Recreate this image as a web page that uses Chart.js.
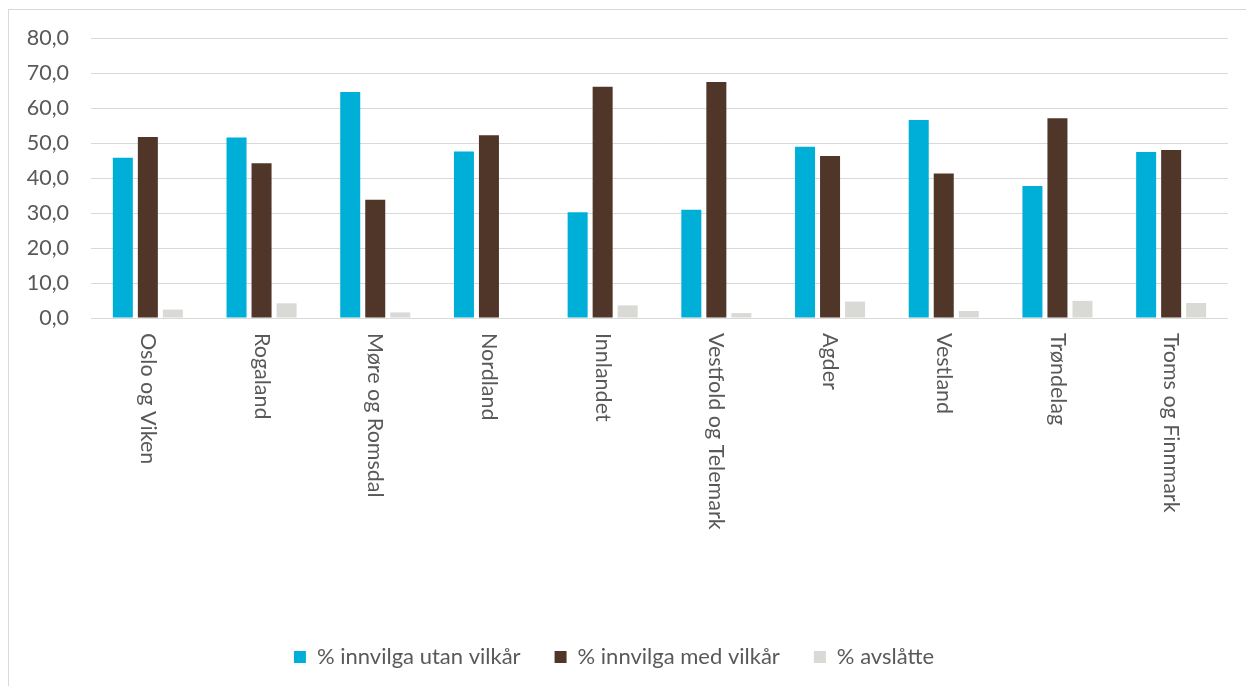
<!DOCTYPE html>
<html>
<head>
<meta charset="utf-8">
<script src="https://cdn.jsdelivr.net/npm/chart.js@4/dist/chart.umd.min.js"></script>
<style>
    html, body { margin: 0; padding: 0; background: #fff; overflow: hidden; }
    #wrap { position: relative; width: 1246px; height: 686px; }
    #frame { position: absolute; left: 8px; top: 9px; width: 1400px; height: 900px; border: 1px solid #d9d9d9; }
    #chart { position: absolute; left: 0; top: 0; }
</style>
</head>
<body>
<div id="wrap">
    <div id="frame"></div>
    <canvas id="chart" width="1246" height="686"></canvas>
</div>
<script>
// Data
const regions = ['Oslo og Viken', 'Rogaland', 'Møre og Romsdal', 'Nordland', 'Innlandet',
    'Vestfold og Telemark', 'Agder', 'Vestland', 'Trøndelag', 'Troms og Finnmark'];
const utanVilkar = [45.8, 51.6, 64.6, 47.6, 30.2, 30.9, 48.9, 56.6, 37.7, 47.4];
const medVilkar = [51.7, 44.2, 33.8, 52.2, 66.1, 67.4, 46.3, 41.3, 57.1, 48.0];
const avslatte = [2.4, 4.2, 1.6, 0, 3.6, 1.4, 4.7, 2.0, 4.9, 4.3];
const seriesNames = ['% innvilga utan vilkår', '% innvilga med vilkår', '% avslåtte'];
const yTicks = [0, 10, 20, 30, 40, 50, 60, 70, 80];

const textColor = '#595959';
const gridColor = '#d9d9d9';
const fontFamily = 'Lato, "Liberation Sans", sans-serif';

// Rotated category labels (top-to-bottom)
const verticalLabels = {
    id: 'verticalLabels',
    afterDraw(chart) {
        const xScale = chart.scales.x;
        const ctx = chart.ctx;
        ctx.save();
        ctx.font = '21.5px ' + fontFamily;
        ctx.fillStyle = textColor;
        ctx.textAlign = 'left';
        ctx.textBaseline = 'middle';
        regions.forEach((name, i) => {
            const x = xScale.getPixelForValue(i);
            ctx.save();
            ctx.translate(x, chart.chartArea.bottom + 15);
            ctx.rotate(Math.PI / 2);
            ctx.fillText(name, 0, 0);
            ctx.restore();
        });
        ctx.restore();
    }
};

const barOpts = { categoryPercentage: 0.66, barPercentage: 0.8 };

new Chart(document.getElementById('chart').getContext('2d'), {
    type: 'bar',
    data: {
        labels: regions,
        datasets: [
            { label: seriesNames[0], data: utanVilkar, backgroundColor: '#00afd8', ...barOpts },
            { label: seriesNames[1], data: medVilkar, backgroundColor: '#4f3629', ...barOpts },
            { label: seriesNames[2], data: avslatte, backgroundColor: '#d9d9d5', ...barOpts }
        ]
    },
    options: {
        responsive: false,
        animation: false,
        devicePixelRatio: 1,
        layout: { padding: { top: 38, right: 18, bottom: 8, left: 0 } },
        plugins: {
            legend: {
                position: 'bottom',
                labels: {
                    color: textColor,
                    font: { family: fontFamily, size: 22 },
                    boxWidth: 12,
                    boxHeight: 12,
                    padding: 34
                }
            },
            tooltip: { enabled: false }
        },
        scales: {
            y: {
                min: 0,
                max: 80,
                afterBuildTicks(scale) {
                    scale.ticks = yTicks.map(v => ({ value: v }));
                },
                afterFit(scale) { scale.width = 91; },
                ticks: {
                    color: textColor,
                    font: { family: fontFamily, size: 21.5 },
                    padding: 22,
                    callback: v => v.toFixed(1).replace('.', ',')
                },
                grid: { color: gridColor, lineWidth: 1, drawTicks: false },
                border: { display: false }
            },
            x: {
                ticks: { display: false },
                grid: { display: false },
                border: { display: false },
                afterFit(scale) { scale.height = 294; }
            }
        }
    },
    plugins: [verticalLabels]
});
</script>
</body>
</html>
